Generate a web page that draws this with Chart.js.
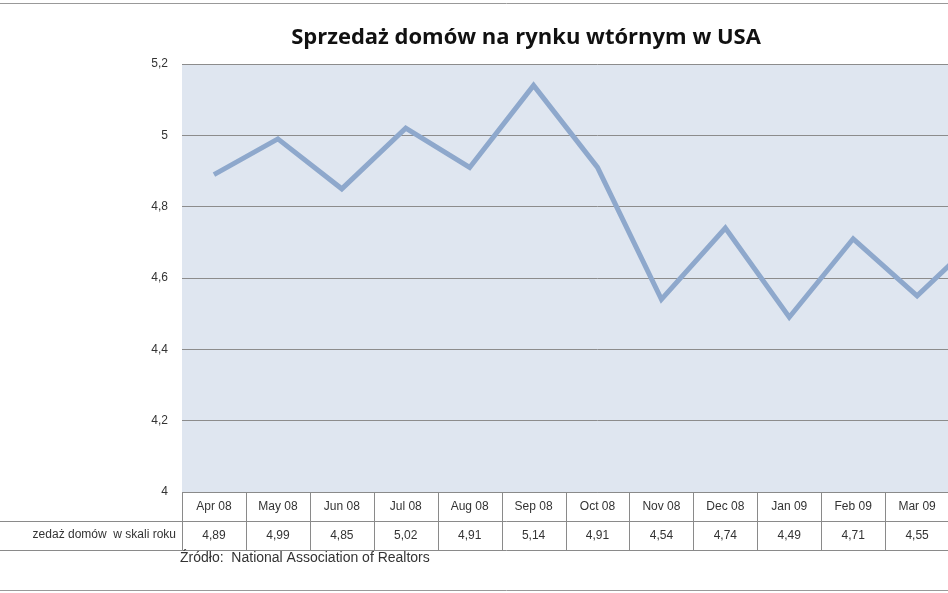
<!DOCTYPE html>
<html><head><meta charset="utf-8">
<script src="https://cdn.jsdelivr.net/npm/chart.js@4"></script>
<style>html,body{margin:0;padding:0;overflow:hidden;background:#fff}#w{width:1013px;height:593px;position:relative}</style>
</head><body><div id="w"><canvas id="c"></canvas></div>
<script>
const categories=["Apr 08","May 08","Jun 08","Jul 08","Aug 08","Sep 08","Oct 08","Nov 08","Dec 08","Jan 09","Feb 09","Mar 09","Apr 09"];
const sales=[4.89,4.99,4.85,5.02,4.91,5.14,4.91,4.54,4.74,4.49,4.71,4.55,4.72];
const valueLabels=["4,89","4,99","4,85","5,02","4,91","5,14","4,91","4,54","4,74","4,49","4,71","4,55","4,72"];
const titleText="Sprzedaż domów na rynku wtórnym w USA";
const rowLabel="Sprzedaż domów  w skali roku";
const sourceText="Źródło:  National Association of Realtors";
const F='"Liberation Sans", Arial, sans-serif';
const deco={id:'deco',
beforeDraw(ch){const {ctx,chartArea:a}=ch;ctx.save();ctx.fillStyle='#dfe6f0';ctx.fillRect(a.left,a.top,a.right-a.left,a.bottom-a.top);ctx.restore();},
afterDraw(ch){const {ctx,chartArea:a,scales:{x}}=ch;ctx.save();
ctx.fillStyle='#111';ctx.font='bold 22px "Open Sans", sans-serif';ctx.textAlign='center';ctx.textBaseline='middle';
ctx.fillText(titleText,526,38);
const w=x.getPixelForValue(1)-x.getPixelForValue(0);const r1=a.bottom+29,r2=a.bottom+58;
ctx.strokeStyle='#8a8a8a';ctx.lineWidth=1;
ctx.beginPath();ctx.moveTo(a.left,a.bottom+0.5);ctx.lineTo(a.right,a.bottom+0.5);
ctx.moveTo(0,r1+0.5);ctx.lineTo(a.right,r1+0.5);ctx.moveTo(0,r2+0.5);ctx.lineTo(a.right,r2+0.5);
for(let i=0;i<=categories.length;i++){const px=Math.round(a.left+i*w)+0.5;ctx.moveTo(px,a.bottom);ctx.lineTo(px,r2);}
ctx.stroke();
ctx.font='12px '+F;ctx.fillStyle='#333';
categories.forEach((c,i)=>{const cx=x.getPixelForValue(i);ctx.fillText(c,cx,a.bottom+15);ctx.fillText(valueLabels[i],cx,r1+15);});
ctx.textAlign='right';ctx.fillText(rowLabel.slice(3),a.left-6,r1+14);
ctx.textAlign='left';ctx.font='14px '+F;ctx.fillText(sourceText,180,r2+8);
ctx.strokeStyle='#999';ctx.beginPath();ctx.moveTo(0,3.5);ctx.lineTo(1013,3.5);ctx.moveTo(0,590.5);ctx.lineTo(1013,590.5);ctx.stroke();
ctx.restore();}};
new Chart(document.getElementById('c'),{type:'line',
data:{labels:categories,datasets:[{data:sales,borderColor:'#8ea8cc',borderWidth:5,pointRadius:0,tension:0,borderJoinStyle:'miter'}]},
options:{responsive:true,maintainAspectRatio:false,animation:false,
layout:{padding:{top:64,bottom:93,left:0,right:0}},
plugins:{legend:{display:false},tooltip:{enabled:false}},
scales:{x:{offset:true,grid:{display:false},border:{display:false},ticks:{display:false}},
y:{min:4,max:5.2,afterFit(s){s.width=182;},grid:{color:'#8c8c8c',drawTicks:false},border:{display:false},
ticks:{stepSize:0.2,padding:14,color:'#333',font:{size:12,family:F},callback:v=>(Math.round(v*10)/10).toString().replace('.',',')}}}},
plugins:[deco]});
</script></body></html>
